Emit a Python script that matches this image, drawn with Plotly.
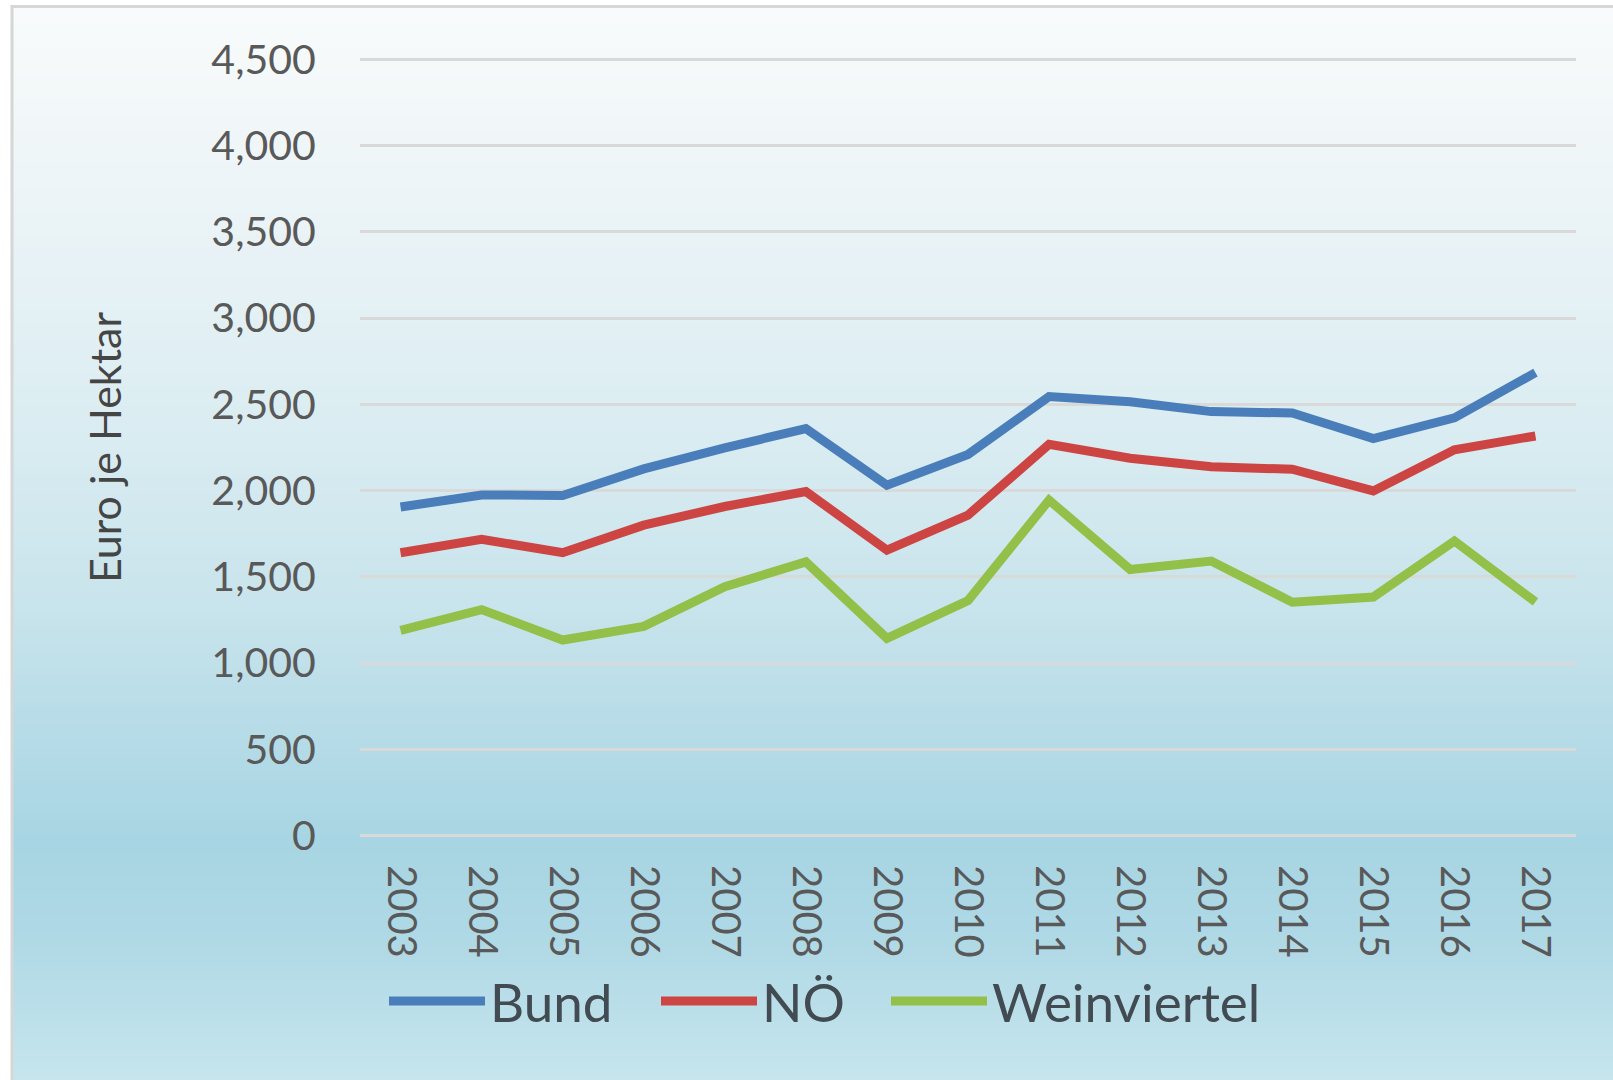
import plotly.graph_objects as go

years = ["2003", "2004", "2005", "2006", "2007", "2008", "2009", "2010",
         "2011", "2012", "2013", "2014", "2015", "2016", "2017"]
bund = [1905, 1975, 1972, 2126, 2248, 2360, 2032, 2210, 2545, 2515, 2458, 2450, 2302, 2422, 2684]
noe = [1640, 1718, 1640, 1800, 1908, 1995, 1655, 1858, 2268, 2188, 2138, 2124, 1998, 2237, 2317]
weinviertel = [1190, 1310, 1134, 1213, 1443, 1587, 1144, 1363, 1945, 1543, 1592, 1353, 1383, 1708, 1355]
series_names = ["Bund", "NÖ", "Weinviertel"]
series_colors = ["#4a7ebb", "#cd4543", "#92c049"]
y_ticks = [0, 500, 1000, 1500, 2000, 2500, 3000, 3500, 4000, 4500]

W, H = 1613, 1080
Y_TOP_PX, Y_BOT_PX = 59.0, 835.5       # pixel rows of 4500 and 0
YMAX = 4500
PAD_UNITS = 14
ppu = (Y_BOT_PX - Y_TOP_PX) / YMAX
ML, MR = 360, 37
MT = Y_TOP_PX - PAD_UNITS * ppu
MB = H - (Y_BOT_PX + PAD_UNITS * ppu)
PW, PH = W - ML - MR, H - MT - MB

def px_x(p):
    return (p - ML) / PW

def px_y(p):
    return (H - MB - p) / PH

FONT = "Lato"

fig = go.Figure()
legend_ids = ["legend", "legend2", "legend3"]
for name, vals, col, lid in zip(series_names, [bund, noe, weinviertel], series_colors, legend_ids):
    fig.add_trace(go.Scatter(x=years, y=vals, name=name, mode="lines",
                             line=dict(color=col, width=9), legend=lid))

# background gradient (styling only)
stops = [(0, (249, 251, 252)), (60, (245, 249, 250)), (200, (236, 244, 247)),
         (420, (219, 237, 242)), (600, (201, 228, 236)), (760, (178, 218, 230)),
         (840, (168, 213, 227)), (930, (174, 216, 229)), (1080, (198, 229, 237))]

def col_at(y):
    for (y0, c0), (y1, c1) in zip(stops[:-1], stops[1:]):
        if y0 <= y <= y1:
            t = (y - y0) / (y1 - y0)
            return "rgb(%d,%d,%d)" % tuple(round(a + (b - a) * t) for a, b in zip(c0, c1))
    return "rgb(%d,%d,%d)" % stops[-1][1]

shapes = []
step = 4
y = 6
while y < H:
    shapes.append(dict(type="rect", xref="paper", yref="paper", layer="below",
                       x0=px_x(13), x1=px_x(W + 5), y0=px_y(y), y1=px_y(min(y + step + 1, H + 5)),
                       line=dict(width=0), fillcolor=col_at(y + step / 2)))
    y += step
shapes.append(dict(type="rect", xref="paper", yref="paper", layer="below",
                   x0=px_x(12), x1=px_x(W + 20), y0=px_y(6), y1=px_y(H + 20),
                   line=dict(color="#d6d6d6", width=3), fillcolor="rgba(0,0,0,0)"))

legend_x_px = [384, 656, 886]
legend_common = dict(orientation="h", yanchor="middle", xanchor="left",
                     xref="paper", yref="paper",
                     font=dict(family=FONT, size=53, color="#414b51"),
                     itemwidth=96, bgcolor="rgba(0,0,0,0)", borderwidth=0)
legends = {}
for lid, lx in zip(legend_ids, legend_x_px):
    legends[lid] = dict(legend_common, x=px_x(lx), y=px_y(1001))

fig.update_layout(
    width=W, height=H,
    margin=dict(l=ML, r=MR, t=MT, b=MB, pad=0, autoexpand=False),
    paper_bgcolor="white",
    plot_bgcolor="rgba(0,0,0,0)",
    font=dict(family=FONT, color="#595959"),
    shapes=shapes,
    showlegend=True,
    xaxis=dict(type="category", range=[-0.5, 14.5], showgrid=False, zeroline=False,
               showline=False, ticks="outside", ticklen=18, tickcolor="rgba(0,0,0,0)",
               tickangle=90, tickfont=dict(family=FONT, size=40, color="#595959"),
               fixedrange=True),
    yaxis=dict(range=[-PAD_UNITS, YMAX + PAD_UNITS], tickvals=y_ticks, tickformat=",d",
               showgrid=True, gridcolor="#d9d9d9", gridwidth=3, zeroline=False, showline=False,
               ticks="outside", ticklen=35, tickcolor="rgba(0,0,0,0)",
               tickfont=dict(family=FONT, size=41, color="#595959"),
               title=dict(text="Euro je Hektar", standoff=76,
                          font=dict(family=FONT, size=43, color="#454545")),
               fixedrange=True),
    **legends,
)

fig.write_html("out.html", config={"displayModeBar": False},
               post_script="document.body.style.margin='0px';")
